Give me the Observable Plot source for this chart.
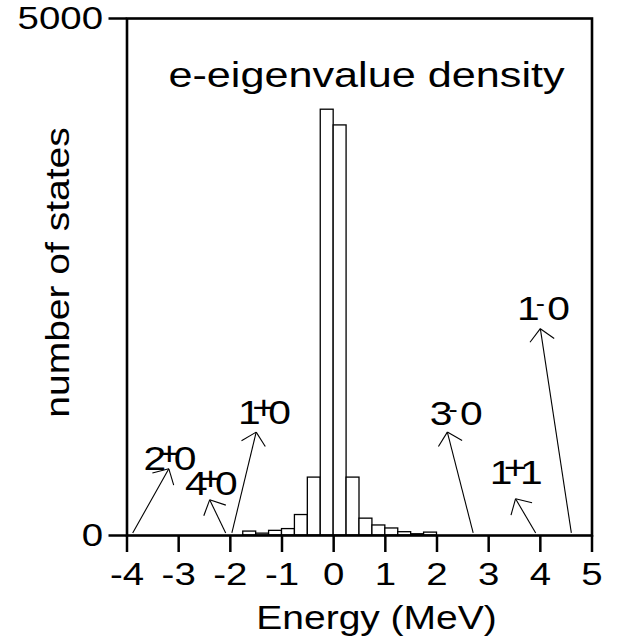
<!DOCTYPE html>
<html><head><meta charset="utf-8">
<script src="https://cdn.jsdelivr.net/npm/d3@7"></script>
<script src="https://cdn.jsdelivr.net/npm/@observablehq/plot@0.6"></script>
<style>
body{margin:0;background:#fff;}
g[aria-label="x-axis tick"], g[aria-label="y-axis tick"], g[aria-label="x-axis tick"] *, g[aria-label="y-axis tick"] *, .tick line {stroke-width:2.5px}
</style>
</head><body><div id="chart"></div>
<script>
// histogram of eigenvalue density (bins of 0.25 MeV)
const binStart = [-1.75, -1.5, -1.25, -1, -0.75, -0.5, -0.25, 0, 0.25, 0.5, 0.75, 1, 1.25, 1.5, 1.75];
const counts   = [38, 18, 45, 62, 198, 560, 4118, 3966, 560, 163, 97, 68, 32, 12, 28];
const binWidth = 0.25;
const xTicks = [-4, -3, -2, -1, 0, 1, 2, 3, 4, 5];
const yTicks = [0, 5000];

// annotated states (J, parity, T), energy and arrow/label positions
const stateSpin    = ["2", "4", "1", "3", "1", "1"];
const stateParity  = ["+", "+", "+", "-", "+", "-"];
const stateIsospin = ["0", "0", "0", "0", "1", "0"];
const stateEnergy  = [-3.89, -2.09, -1.97, 2.70, 3.91, 4.60];
const arrowTipX    = [-3.19, -2.40, -1.50, 2.20, 3.52, 4.00];
const arrowTipY    = [645, 345, 1000, 1000, 355, 2000];
const labelX       = [-3.24, -2.44, -1.41, 2.30, 3.46, 3.99];
const labelY       = [629, 387, 1083, 1064, 500, 2086];

const W = 629, H = 644, ML = 126.5, MR = 37.5, MT = 18, MB = 109;
const FONT = "Liberation Sans, Arial, Helvetica, sans-serif";
const STRETCH = 1.2;

const bars = binStart.map((s, i) => ({x1: s, x2: s + binWidth, y: counts[i]}));
const states = stateSpin.map((j, i) => ({
  j, p: stateParity[i], t: stateIsospin[i],
  e: stateEnergy[i], y0: 25, tx: arrowTipX[i], ty: arrowTipY[i],
  lx: labelX[i], ly: labelY[i]
}));

// arrowhead wings computed in screen space through the plot's scales
const xs = Plot.scale({x: {domain: [-4, 5], range: [ML, W - MR]}});
const ys = Plot.scale({y: {domain: [0, 5000], range: [H - MB, MT]}});
const wings = [];
const wingLen = 17, wingAng = 46 * Math.PI / 180;
for (const s of states) {
  const tx = xs.apply(s.tx), ty = ys.apply(s.ty);
  const sx = xs.apply(s.e), sy = ys.apply(s.y0);
  const L = Math.hypot(sx - tx, sy - ty);
  const ux = (sx - tx) / L, uy = (sy - ty) / L;
  for (const a of [wingAng, -wingAng]) {
    const wx = tx + wingLen * (ux * Math.cos(a) - uy * Math.sin(a));
    const wy = ty + wingLen * (ux * Math.sin(a) + uy * Math.cos(a));
    wings.push({x1: s.tx, y1: s.ty, x2: xs.invert(wx), y2: ys.invert(wy)});
  }
}

const plus = states.filter(d => d.p === "+");
const minus = states.filter(d => d.p === "-");

const svg = Plot.plot({
  width: W, height: H,
  marginLeft: ML, marginRight: MR, marginTop: MT, marginBottom: MB,
  style: {fontFamily: FONT, fontSize: "32px", color: "black", background: "white"},
  x: {domain: [-4, 5], ticks: xTicks, tickSize: 17, tickPadding: 10, tickFormat: d => String(d), label: null},
  y: {domain: [0, 5000], ticks: yTicks, tickSize: 18, tickPadding: 6, tickFormat: d => String(d), label: null},
  marks: [
    Plot.rectY(bars, {x1: "x1", x2: "x2", y: "y", fill: "white", stroke: "black", strokeWidth: 1.3}),
    Plot.frame({stroke: "black", strokeWidth: 2.6}),
    Plot.link(states, {x1: "e", y1: "y0", x2: "tx", y2: "ty", stroke: "black", strokeWidth: 1.1}),
    Plot.link(wings, {x1: "x1", y1: "y1", x2: "x2", y2: "y2", stroke: "black", strokeWidth: 1.1}),
    Plot.text(states, {x: "lx", y: "ly", text: "j", textAnchor: "end", lineAnchor: "bottom", fontSize: 34}),
    Plot.text(states, {x: "lx", y: "ly", text: "t", textAnchor: "start", lineAnchor: "bottom", fontSize: 34, dx: 7.5}),
    Plot.text(plus, {x: "lx", y: "ly", text: "p", textAnchor: "middle", lineAnchor: "bottom", fontSize: 33, dx: 3, dy: -5}),
    Plot.text(minus, {x: "lx", y: "ly", text: () => "-", textAnchor: "middle", lineAnchor: "bottom", fontSize: 23, dx: 0.5, dy: -8.5}),
    Plot.text(["e-eigenvalue density"], {frameAnchor: "top", textAnchor: "middle", dx: 7, dy: 68, lineAnchor: "bottom", fontSize: 36}),
    Plot.text(["number of states"], {frameAnchor: "left", textAnchor: "middle", rotate: -90, dx: -58.5, dy: -4.5, lineAnchor: "bottom", fontSize: 32.5}),
    Plot.text(["Energy (MeV)"], {frameAnchor: "bottom", textAnchor: "middle", dx: 17, dy: 93, lineAnchor: "bottom", fontSize: 32.5})
  ]
});

// widen the glyphs horizontally (the reference lettering is expanded)
svg.querySelectorAll("text").forEach(t => {
  const x = parseFloat(t.getAttribute("x") || 0) || 0;
  const tr = t.getAttribute("transform") || "";
  t.setAttribute("transform", `${tr} translate(${x},0) scale(${STRETCH},1) translate(${-x},0)`);
});
document.getElementById("chart").append(svg);
</script>
</body></html>
